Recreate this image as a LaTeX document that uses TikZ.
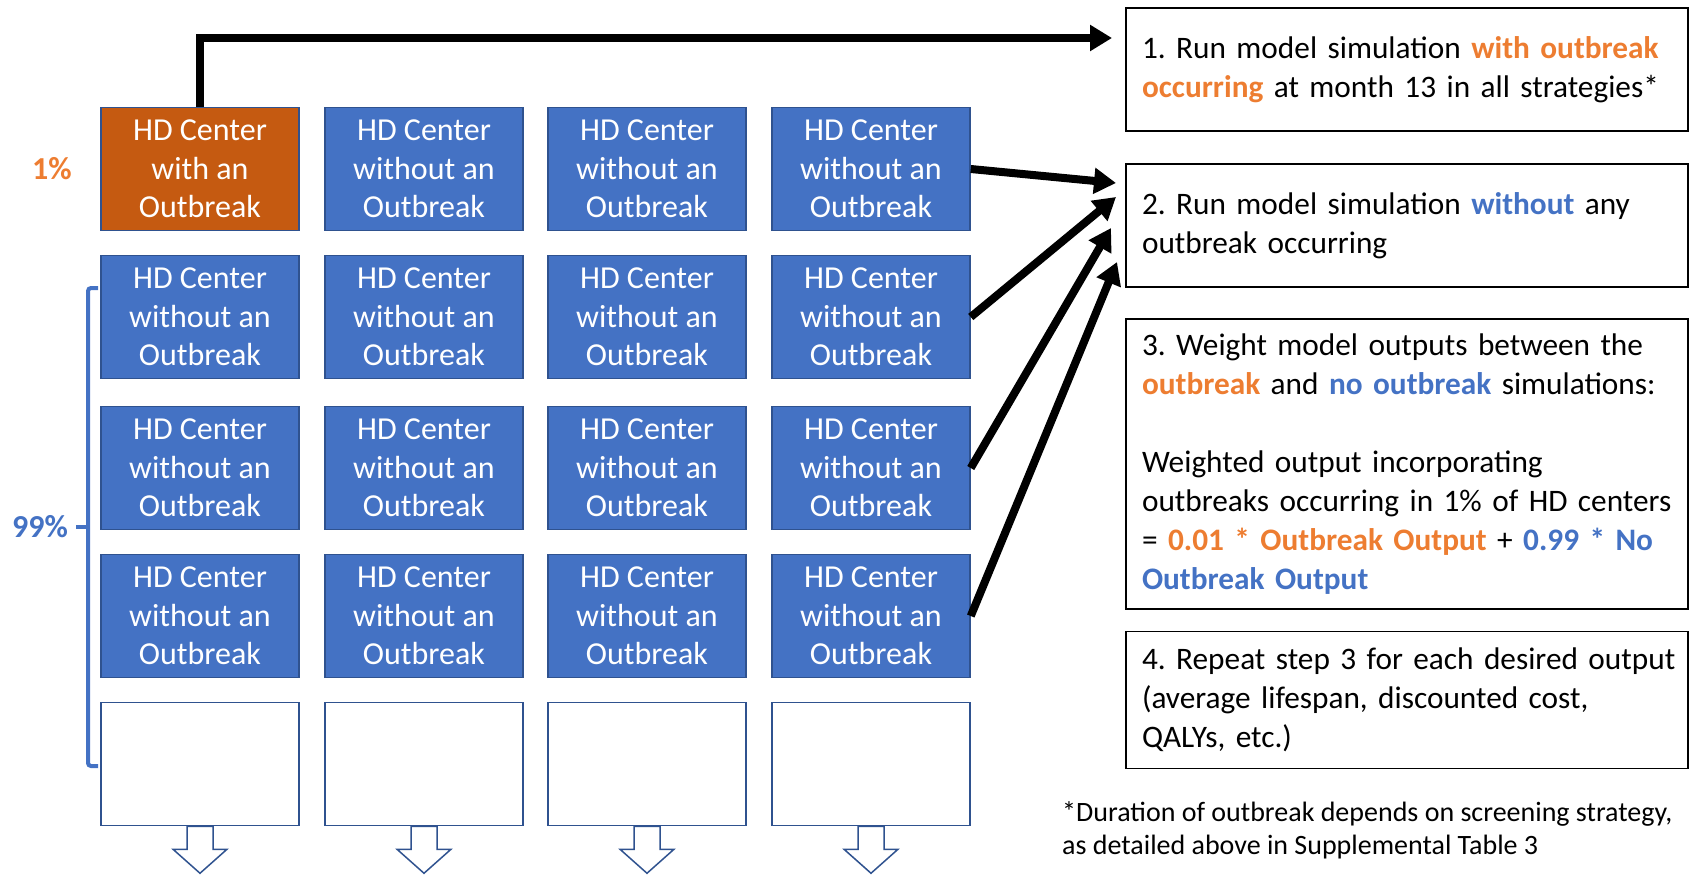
\documentclass[tikz,border=0pt]{standalone}
\usepackage{fontspec}
\setmainfont{Carlito}
\usetikzlibrary{arrows.meta,calc}
\definecolor{hdblue}{HTML}{4472C4}
\definecolor{hdedge}{HTML}{2F528F}
\definecolor{obfill}{HTML}{C55A11}
\definecolor{obtext}{HTML}{ED7D31}
\frenchspacing
\begin{document}
\begin{tikzpicture}[x=1pt,y=-1pt,
  cell/.style={rectangle,draw=hdedge,line width=1.5pt,minimum width=198pt,minimum height=123pt,inner sep=0pt,align=center,text=white,font=\fontsize{32}{38.4}\selectfont},
  hd/.style={cell,fill=hdblue},
  ob/.style={cell,fill=obfill},
  blank/.style={cell,fill=white},
  stepbox/.style={rectangle,draw=black,line width=1.8pt,minimum width=562pt,text width=530pt,inner xsep=16pt,inner ysep=0pt,align=left,font=\fontsize{31.3}{39}\selectfont},
  conn/.style={line width=8pt,-{Triangle[length=22pt,width=25pt]}},
  downarrow/.style={draw=hdedge,line width=1.5pt,fill=white},
  bracket/.style={draw=hdblue,line width=4pt,rounded corners=3pt},
  pct/.style={font=\fontsize{32}{38}\selectfont\bfseries},
  note/.style={font=\fontsize{28}{33}\selectfont,align=left,inner sep=0pt}
]
\useasboundingbox (0,0) rectangle (1696,875);

% grid of HD centers
\node[ob] (b11) at (200,169) {HD Center\\with an\\Outbreak};
\foreach \x [count=\c from 2] in {424,647,871}
  \node[hd] (b1\c) at (\x,169) {HD Center\\without an\\Outbreak};
\foreach \y [count=\r from 2] in {317,468,616}
  \foreach \x [count=\c] in {200,424,647,871}
    \node[hd] (b\r\c) at (\x,\y) {HD Center\\without an\\Outbreak};
\foreach \x [count=\c] in {200,424,647,871} {
  \node[blank] (e\c) at (\x,764) {};
  \draw[downarrow] ($(e\c.south)+(-13,0)$) -- ++(0,23) -- ++(-14,0) -- ++(27,24) -- ++(27,-24) -- ++(-14,0) -- ++(0,-23) -- cycle;
}

% percentages and bracket
\node[pct,text=obtext] (p1) at (52,169) {1\%};
\node[pct,text=hdblue] (p99) at (40,527) {99\%};
\draw[bracket] (98,288) -- (88,288) -- (88,766) -- (98,766);
\draw[bracket] (88,527) -- (76,527);

% step boxes
\node[stepbox,minimum height=123pt] (s1) at (1407,69.5)
  {\mbox{1. Run model simulation \textcolor{obtext}{\textbf{with outbreak}}}\\
   \mbox{\textcolor{obtext}{\textbf{occurring}} at month 13 in all strategies*}};
\node[stepbox,minimum height=123pt] (s2) at (1407,225.5)
  {\mbox{2. Run model simulation \textcolor{hdblue}{\textbf{without}} any}\\
   \mbox{outbreak occurring}};
\node[stepbox,minimum height=290pt] (s3) at (1407,464)
  {\mbox{3. Weight model outputs between the}\\
   \mbox{\textcolor{obtext}{\textbf{outbreak}} and \textcolor{hdblue}{\textbf{no outbreak}} simulations:}\\[39pt]
   \mbox{Weighted output incorporating}\\
   \mbox{outbreaks occurring in 1\% of HD centers}\\
   \mbox{= \textcolor{obtext}{\textbf{0.01 * Outbreak Output}} + \textcolor{hdblue}{\textbf{0.99 * No}}}\\
   \mbox{\textcolor{hdblue}{\textbf{Outbreak Output}}}};
\node[stepbox,minimum height=137pt] (s4) at (1407,700)
  {\mbox{4. Repeat step 3 for each desired output}\\
   \mbox{(average lifespan, discounted cost,}\\
   \mbox{QALYs, etc.)}};

\node[note,anchor=west] (fn) at (1062,830)
  {*Duration of outbreak depends on screening strategy,\\as detailed above in Supplemental Table 3};

% connectors
\coordinate (t0) at (1112,38);
\coordinate (t1) at (1116,183);
\coordinate (t2) at (1116,197);
\coordinate (t3) at (1111,228);
\coordinate (t4) at (1117,262);
\draw[conn] (b11.north) |- (t0);
\draw[conn] (b14.east) -- (t1);
\draw[conn] (b24.east) -- (t2);
\draw[conn] (b34.east) -- (t3);
\draw[conn] (b44.east) -- (t4);
\end{tikzpicture}
\end{document}
